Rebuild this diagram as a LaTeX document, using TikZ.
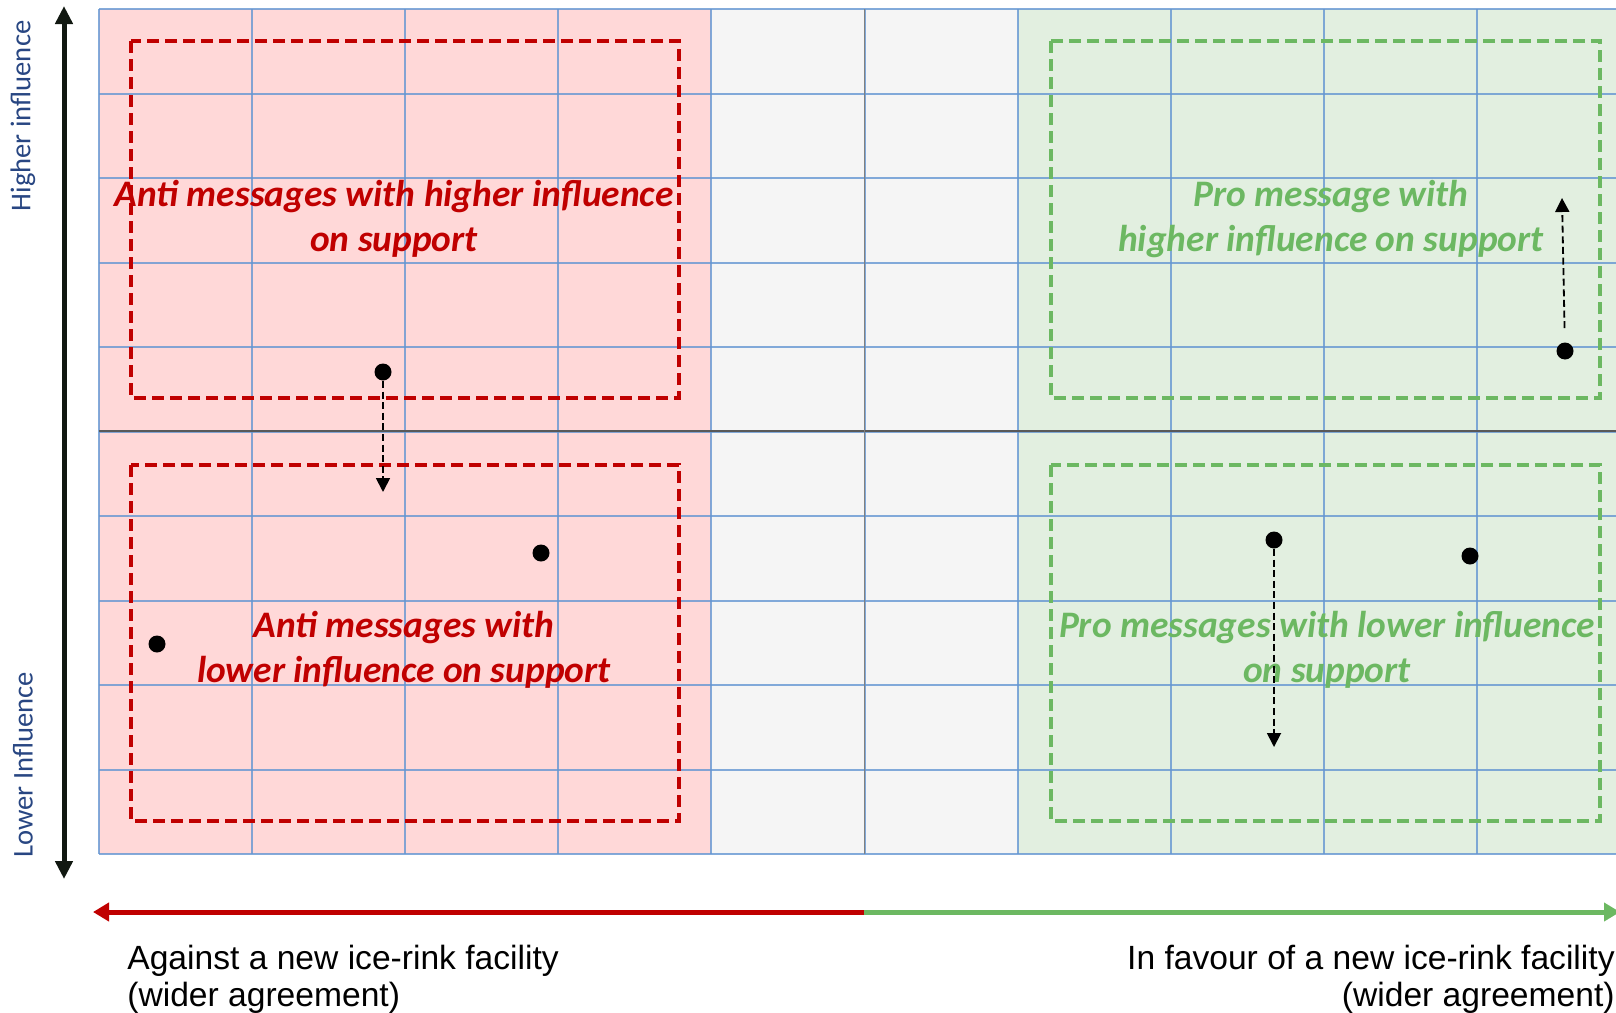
\documentclass[tikz,border=0pt]{standalone}
\usepackage{fontspec}
\setmainfont{Liberation Sans}
\newfontfamily\calibri{Carlito}
\usetikzlibrary{arrows.meta}
\definecolor{antired}{RGB}{192,0,0}
\definecolor{progreen}{RGB}{108,184,98}
\definecolor{pinkbg}{RGB}{255,216,216}
\definecolor{graybg}{RGB}{245,245,245}
\definecolor{greenbg}{RGB}{226,239,224}
\definecolor{gridblue}{RGB}{100,150,210}
\definecolor{axisblue}{RGB}{40,70,130}
\definecolor{axisblack}{RGB}{17,24,17}

\begin{document}
\begin{tikzpicture}[x=0.5pt, y=-0.5pt,
  msg/.style={font=\calibri\bfseries\itshape\fontsize{18.7}{22.7}\selectfont, align=center, inner sep=0pt},
  side/.style={font=\fontsize{16.8}{18.3}\selectfont, inner sep=0pt},
  ylab/.style={rotate=90, text=axisblue, font=\calibri\fontsize{14.3}{16}\selectfont, inner sep=0pt},
  zone/.style={dash pattern=on 6pt off 3pt, line width=1.6pt},
  dot/.style={circle, fill=black, inner sep=0pt, minimum size=8.5pt},
  darr/.style={-{Triangle[length=7pt, width=7pt]}, dash pattern=on 3.5pt off 1.8pt, line width=0.9pt},
  harr/.style={-{Triangle[length=8pt, width=9pt]}, line width=2.5pt}]
\useasboundingbox (0,0) rectangle (1616,1012);
\fill[pinkbg] (99,9) rectangle (711,854);
\fill[graybg] (711,9) rectangle (1018,854);
\fill[greenbg] (1018,9) rectangle (1640,854);
\foreach \i in {0,...,10} { \draw[gridblue, line width=1pt, opacity=0.8] ({99+153.1*\i},9) -- ({99+153.1*\i},854); }
\foreach \j in {0,...,10} { \draw[gridblue, line width=1pt, opacity=0.8] (99,{9+84.5*\j}) -- (1640,{9+84.5*\j}); }
\draw[gray!70!black, line width=1pt] (99,431) -- (1640,431);
\draw[gray, line width=0.6pt] (864.5,9) -- (864.5,854);
\draw[zone, antired] (131,41) rectangle (679,398);
\draw[zone, antired] (131,465) rectangle (679,821);
\draw[zone, progreen] (1051,41) rectangle (1600,398);
\draw[zone, progreen] (1051,465) rectangle (1600,821);
\node[msg, text=antired] (ah) at (394,219) {Anti messages with higher influence\\on support};
\node[msg, text=progreen] (ph) at (1331,219) {Pro message with\\higher influence on support};
\node[msg, text=antired] (al) at (404,650) {Anti messages with\\lower influence on support};
\node[msg, text=progreen] (pl) at (1327,650) {Pro messages with lower influence\\on support};
\node[dot] (d1) at (383,372) {};
\node[dot] (d2) at (541,553) {};
\node[dot] (d3) at (157,644) {};
\node[dot] (d4) at (1274,540) {};
\node[dot] (d5) at (1470,556) {};
\node[dot] (d6) at (1565,351) {};
\coordinate (t1) at (383,492);
\coordinate (t4) at (1274,747);
\coordinate (t6) at (1562,198);
\draw[darr] (d1) -- (t1);
\draw[darr] (d4) -- (t4);
\draw[darr, shorten <=7pt] (d6) -- (t6);
\coordinate (vt) at (64,6);
\coordinate (vb) at (64,879);
\draw[{Triangle[length=9pt, width=8.5pt]}-{Triangle[length=9pt, width=8.5pt]}, line width=2.5pt, axisblack] (vt) -- (vb);
\node[ylab] (hi) at (23,116) {Higher influence};
\node[ylab] (lo) at (23,765) {Lower Influence};
\coordinate (mid) at (864,912);
\coordinate (lt) at (93,912);
\coordinate (rt) at (1620,912);
\draw[harr, antired] (mid) -- (lt);
\draw[harr, progreen] (mid) -- (rt);
\node[side, align=left, anchor=base west] (against) at (127,1006) {Against a new ice-rink facility\\(wider agreement)};
\node[side, align=right, anchor=base east] (favour) at (1615,1006) {In favour of a new ice-rink facility\\(wider agreement)};
\end{tikzpicture}
\end{document}
